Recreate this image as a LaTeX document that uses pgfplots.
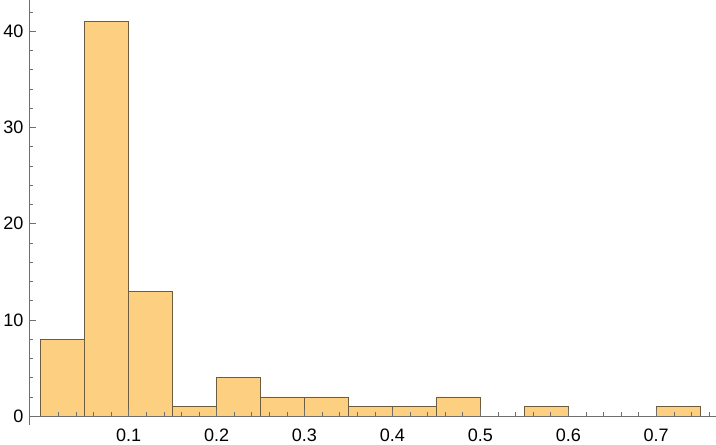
\documentclass[border=0pt]{standalone}
\usepackage{pgfplots}
\pgfplotsset{compat=1.18}
\usepackage{fontspec}
\setmainfont{Liberation Sans}
\definecolor{barfill}{RGB}{252,208,128}
\definecolor{baredge}{RGB}{110,92,62}
\definecolor{axgray}{RGB}{110,110,110}
\begin{document}
\begin{tikzpicture}
\begin{axis}[
  scale only axis,
  width=686pt, height=424pt,
  xmin=-0.0134, xmax=0.7676,
  ymin=-0.9, ymax=43.2,
  axis x line=middle,
  axis y line=left,
  axis on top,
  axis line style={-, draw=axgray, line width=0.7pt},
  hide obscured x ticks=false,
  hide obscured y ticks=false,
  tick align=inside,
  major tick length=7pt,
  minor tick length=4pt,
  tick style={draw=axgray, line width=0.6pt},
  xtick={0.1,0.2,0.3,0.4,0.5,0.6,0.7},
  xticklabels={0.1,0.2,0.3,0.4,0.5,0.6,0.7},
  minor xtick={0.02,0.04,0.06,0.08,0.12,0.14,0.16,0.18,0.22,0.24,0.26,0.28,0.32,0.34,0.36,0.38,0.42,0.44,0.46,0.48,0.52,0.54,0.56,0.58,0.62,0.64,0.66,0.68,0.72,0.74,0.76},
  ytick={0,10,20,30,40},
  minor ytick={2,4,6,8,12,14,16,18,22,24,26,28,32,34,36,38,42},
  /pgf/number format/assume math mode=true,
  tick label style={font=\fontsize{18}{20}\selectfont, text=black},
  xticklabel style={yshift=-9pt},
  yticklabel style={xshift=-2pt},
  clip=false,
]
\addplot[ybar, bar width=0.05, bar shift=0pt, fill=barfill, draw=baredge, line width=0.7pt]
coordinates {
(0.025,8) (0.075,41) (0.125,13) (0.175,1) (0.225,4) (0.275,2) (0.325,2)
(0.375,1) (0.425,1) (0.475,2) (0.575,1) (0.725,1)
};
\end{axis}
\end{tikzpicture}
\end{document}
